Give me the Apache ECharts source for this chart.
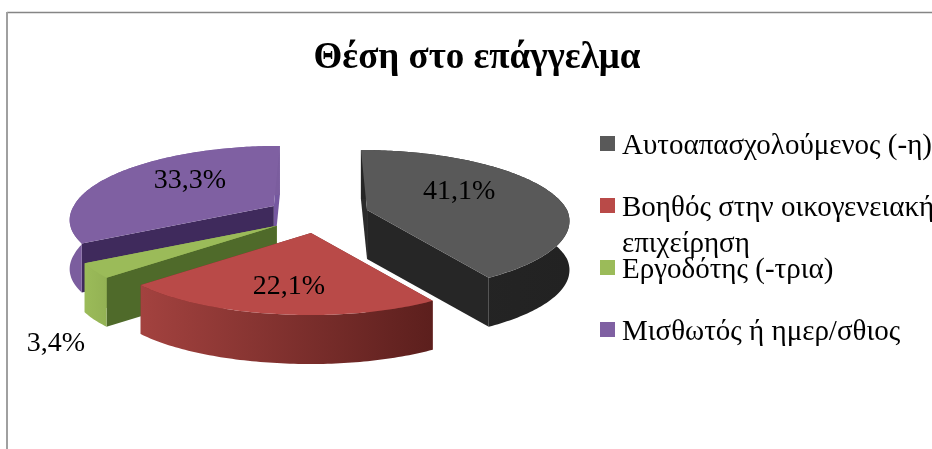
<!DOCTYPE html>
<html><head><meta charset="utf-8">
<style>html,body{margin:0;padding:0;background:#fff}#c{width:932px;height:449px}</style>
<script src="https://cdn.jsdelivr.net/npm/echarts@6/dist/echarts.min.js"></script>
</head><body><div id="c"></div>
<script>
const categories = ['Αυτοαπασχολούμενος (-η)', 'Βοηθός στην οικογενειακή\nεπιχείρηση', 'Εργοδότης (-τρια)', 'Μισθωτός ή ημερ/σθιος'];
const values = [41.1, 22.1, 3.4, 33.3];
const titleText = 'Θέση στο επάγγελμα';

const colors = ['#595959', '#b94a48', '#9bbb59', '#7f60a2'];
const outerWall = [['#262626', '#222222'], ['#a3423f', '#5c1f1d'], ['#9bbb59', '#93b254'], ['#7b5d9e', '#7b5d9e']];
const startEdgeWall = ['#2b2b2b', '#7a2c2a', '#4f6a2a', '#3f2a5c'];
const endEdgeWall = ['#262626', '#7a2c2a', '#93b254', '#7558a0'];
const paintOrder = [2, 4, 3, 1];
const labelOffset = [[92, -18], [-22, 54], [-221, 118], [-84, -25]];
const legendTop = [127, 189, 251, 313];

const centre = [318, 215], explode = [51, 18.2];
const radiusX = 200, radiusY = 69.3, persp = 0.155, depth = 49, startAngle = 0;
const backConverge = 0.13, frontFlare = 10, vanishX = 320;
const total = values.reduce((a, b) => a + b, 0);
const rad = d => d * Math.PI / 180;

function project(apex, deg) {
  const u = Math.sin(rad(deg)), v = -Math.cos(rad(deg)), s = 1 / (1 - persp * v);
  const x = radiusX * u * s + (vanishX - apex[0]) * backConverge * Math.max(-v, 0) - frontFlare * Math.max(v, 0) * Math.max(-u, 0);
  return [apex[0] + x, apex[1] + radiusY * v * s];
}
const down = p => [p[0], p[1] + depth];
const grad = (a, b) => new echarts.graphic.LinearGradient(0, 0, 1, 0, [{offset: 0, color: a}, {offset: 1, color: b}]);

function renderSlice(params, api) {
  const i = params.seriesIndex;
  const sweep = api.value(0) / total * 360;
  let a0 = startAngle;
  for (let k = 0; k < i; k++) a0 += values[k] / total * 360;
  const mid = rad(a0 + sweep / 2);
  const apex = [centre[0] + explode[0] * Math.sin(mid), centre[1] - explode[1] * Math.cos(mid)];
  const arc = [];
  const n = Math.max(4, Math.ceil(sweep));
  for (let k = 0; k <= n; k++) arc.push(project(apex, a0 + sweep * k / n));
  const first = arc[0], last = arc[arc.length - 1];
  const poly = (points, fill) => ({type: 'polygon', shape: {points}, style: {fill, stroke: 'none'}});
  return {type: 'group', children: [
    poly([apex, last, down(last), down(apex)], endEdgeWall[i]),
    poly([apex, first, down(first), down(apex)], startEdgeWall[i]),
    poly(arc.concat(arc.map(down).reverse()), grad(outerWall[i][0], outerWall[i][1])),
    poly([apex].concat(arc), colors[i]),
    {type: 'text', z2: 20, style: {
      x: apex[0] + labelOffset[i][0], y: apex[1] + labelOffset[i][1],
      text: values[i].toFixed(1).replace('.', ',') + '%',
      fill: '#000', font: '28px "Liberation Serif"', textAlign: 'center', textVerticalAlign: 'middle'}}
  ]};
}

const chart = echarts.init(document.getElementById('c'), null, {renderer: 'canvas'});
chart.setOption({
  animation: false,
  backgroundColor: '#fff',
  title: {text: titleText, left: 472, top: 35, textAlign: 'center',
    textStyle: {fontFamily: 'Liberation Serif', fontWeight: 'bold', fontSize: 37, color: '#000'}},
  legend: categories.map((c, i) => ({
    data: [c], left: 595, top: legendTop[i], orient: 'vertical', icon: 'rect', itemWidth: 15, itemHeight: 15,
    selectedMode: false, formatter: n => '{a|' + n.split('\n')[0] + '}',
    textStyle: {rich: {a: {fontFamily: 'Liberation Serif', fontSize: 29, color: '#000', padding: [6, 0, 0, 2]}}}
  })),
  graphic: [
    {type: 'line', silent: true, shape: {x1: 7, y1: 12.5, x2: 932, y2: 12.5}, style: {stroke: '#858585', lineWidth: 1.5}},
    {type: 'line', silent: true, shape: {x1: 7, y1: 12, x2: 7, y2: 449}, style: {stroke: '#a0a0a0', lineWidth: 2}},
    {type: 'text', silent: true, style: {x: 622, y: 244, text: categories[1].split('\n')[1], fill: '#000',
      font: '29px "Liberation Serif"', textVerticalAlign: 'middle'}}
  ],
  series: categories.map((c, i) => ({
    type: 'custom', name: c, coordinateSystem: 'none', z: paintOrder[i], silent: true,
    itemStyle: {color: colors[i]}, data: [values[i]], renderItem: renderSlice
  }))
});
</script></body></html>
